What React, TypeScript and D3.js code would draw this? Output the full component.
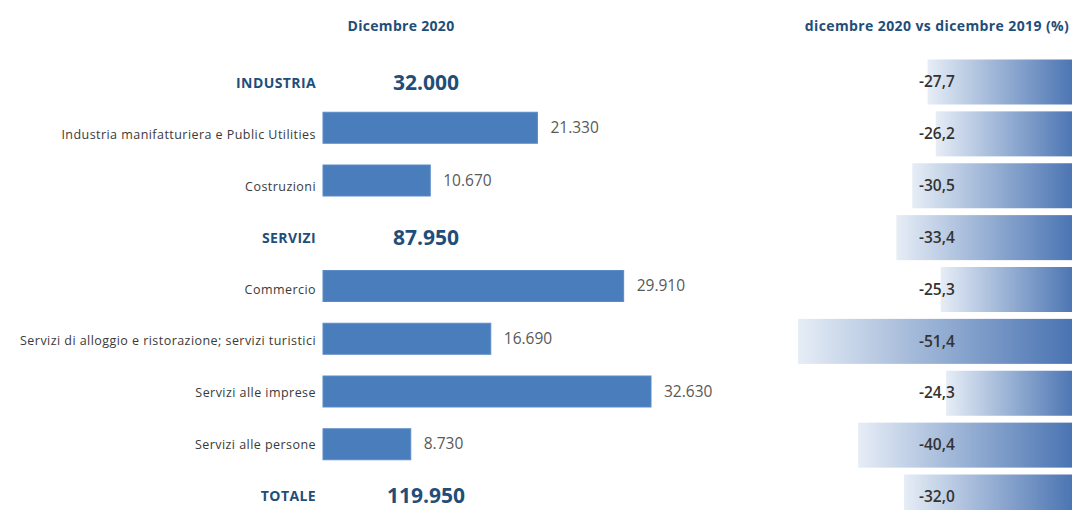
import React, { useEffect, useRef } from 'react';
import * as d3 from 'd3';

// Occupati per settore - dicembre 2020
const categories = [
  'INDUSTRIA',
  'Industria manifatturiera e Public Utilities',
  'Costruzioni',
  'SERVIZI',
  'Commercio',
  'Servizi di alloggio e ristorazione; servizi turistici',
  'Servizi alle imprese',
  'Servizi alle persone',
  'TOTALE',
];
const isAggregate = [true, false, false, true, false, false, false, false, true];
const values = [32000, 21330, 10670, 87950, 29910, 16690, 32630, 8730, 119950];
const changes = [-27.7, -26.2, -30.5, -33.4, -25.3, -51.4, -24.3, -40.4, -32.0];

const leftTitle = 'Dicembre 2020';
const rightTitle = 'dicembre 2020 vs dicembre 2019 (%)';

const W = 1072;
const H = 510;

const it = d3.formatLocale({ decimal: ',', thousands: '.', grouping: [3], currency: ['€', ''], minus: '-' });
const fmtInt = it.format(',d');
const fmtPct = it.format('.1f');

const App: React.FC = () => {
  const svgRef = useRef<SVGSVGElement>(null);

  useEffect(() => {
    if (!svgRef.current) return;
    const svg = d3.select(svgRef.current);
    svg.selectAll('*').remove();

    const font = '"Open Sans", "Noto Sans", sans-serif';
    const darkBlue = '#1f4e79';
    const idx = d3.range(categories.length);

    // row positions
    const labelY = d3.scalePoint<number>().domain(idx).range([84, 497]);
    const barY = d3.scalePoint<number>().domain(idx).range([75, 497]);
    const rightY = d3.scalePoint<number>().domain(idx).range([82, 497]);

    const detail = idx.filter(i => !isAggregate[i]);
    const x = d3.scaleLinear()
      .domain([0, d3.max(detail, i => values[i]) as number])
      .range([323, 651]);

    const rx = d3.scaleLinear()
      .domain([d3.min(changes) as number, 0])
      .range([798, 1079]);

    const defs = svg.append('defs');
    const grad = defs.append('linearGradient')
      .attr('id', 'chgGrad')
      .attr('x1', '0%').attr('x2', '100%')
      .attr('y1', '0%').attr('y2', '0%');
    grad.append('stop').attr('offset', '0%').attr('stop-color', '#e6edf6');
    grad.append('stop').attr('offset', '100%').attr('stop-color', '#4570b0');

    // titles
    svg.append('text')
      .attr('x', 401).attr('y', 27)
      .attr('text-anchor', 'middle').attr('dominant-baseline', 'middle')
      .attr('font-family', font).attr('font-size', 14).attr('font-weight', 'bold')
      .attr('letter-spacing', 0.3)
      .attr('fill', darkBlue)
      .text(leftTitle);

    svg.append('text')
      .attr('x', 937).attr('y', 27)
      .attr('text-anchor', 'middle').attr('dominant-baseline', 'middle')
      .attr('font-family', font).attr('font-size', 14).attr('font-weight', 'bold')
      .attr('letter-spacing', 0.4)
      .attr('fill', darkBlue)
      .text(rightTitle);

    // category labels
    svg.append('g').selectAll('text')
      .data(idx)
      .enter()
      .append('text')
      .attr('x', 316)
      .attr('y', i => labelY(i) as number)
      .attr('text-anchor', 'end')
      .attr('dominant-baseline', 'middle')
      .attr('font-family', font)
      .attr('font-size', i => (isAggregate[i] ? 14 : 12.5))
      .attr('letter-spacing', i => (isAggregate[i] ? 0.4 : 0.45))
      .attr('font-weight', i => (isAggregate[i] ? 'bold' : 'normal'))
      .attr('fill', i => (isAggregate[i] ? darkBlue : '#3a3a3a'))
      .text(i => categories[i]);

    // aggregate totals (no bar)
    svg.append('g').selectAll('text')
      .data(idx.filter(i => isAggregate[i]))
      .enter()
      .append('text')
      .attr('x', 426)
      .attr('y', i => labelY(i) as number)
      .attr('text-anchor', 'middle')
      .attr('dominant-baseline', 'middle')
      .attr('font-family', font)
      .attr('font-size', 21)
      .attr('font-weight', 'bold')
      .attr('fill', darkBlue)
      .text(i => fmtInt(values[i]));

    // detail bars
    const barH = 31;
    const bars = svg.append('g');
    bars.selectAll('rect')
      .data(detail)
      .enter()
      .append('rect')
      .attr('x', x(0))
      .attr('y', i => (barY(i) as number) - barH / 2)
      .attr('width', i => x(values[i]) - x(0))
      .attr('height', barH)
      .attr('fill', '#4a7dbb')
      .attr('stroke', '#5b8bc6')
      .attr('stroke-width', 1);

    bars.selectAll('text')
      .data(detail)
      .enter()
      .append('text')
      .attr('x', i => x(values[i]) + 13)
      .attr('y', i => (barY(i) as number) + 1)
      .attr('dominant-baseline', 'middle')
      .attr('font-family', font)
      .attr('font-size', 15.5)
      .attr('fill', '#595959')
      .text(i => fmtInt(values[i]));

    // change bars (gradient)
    const rH = 45;
    const right = svg.append('g');
    right.selectAll('rect')
      .data(idx)
      .enter()
      .append('rect')
      .attr('x', i => rx(changes[i]))
      .attr('y', i => (rightY(i) as number) - rH / 2)
      .attr('width', i => rx(0) - rx(changes[i]))
      .attr('height', rH)
      .attr('fill', 'url(#chgGrad)');

    right.selectAll('text')
      .data(idx)
      .enter()
      .append('text')
      .attr('x', 919)
      .attr('y', i => (rightY(i) as number) + 1)
      .attr('dominant-baseline', 'middle')
      .attr('font-family', font)
      .attr('font-size', 15.5)
      .attr('font-weight', 600)
      .attr('fill', '#333333')
      .text(i => fmtPct(changes[i]));
  }, []);

  return (
    <svg
      ref={svgRef}
      width={W}
      height={H}
      style={{ position: 'absolute', left: 0, top: 0, display: 'block', background: '#ffffff' }}
    />
  );
};

export default App;
